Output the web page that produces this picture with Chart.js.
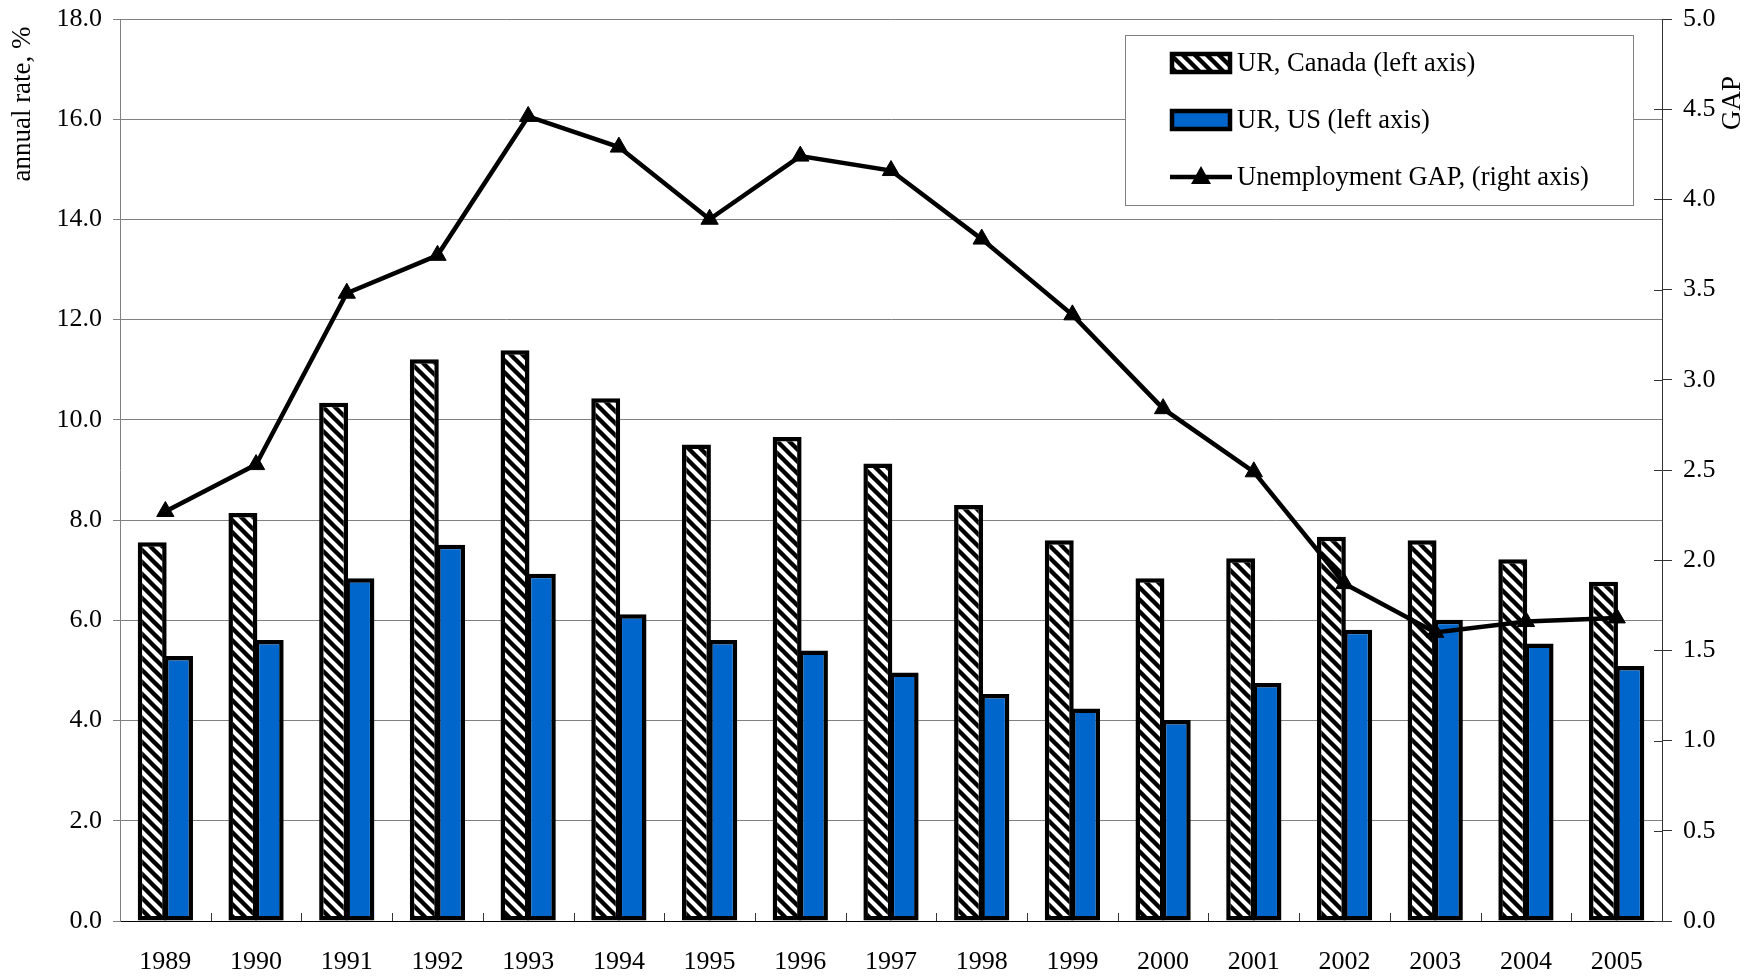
<!DOCTYPE html>
<html>
<head>
<meta charset="utf-8">
<script src="https://cdn.jsdelivr.net/npm/chart.js@4.4.0/dist/chart.umd.min.js"></script>
<style>
    html, body { margin: 0; padding: 0; background: #fff; }
    #wrap { width: 1760px; height: 977px; }
</style>
</head>
<body>
<div id="wrap"><canvas id="chart"></canvas></div>
<script>
const years = ['1989', '1990', '1991', '1992', '1993', '1994', '1995', '1996', '1997',
    '1998', '1999', '2000', '2001', '2002', '2003', '2004', '2005'];
const canada = [7.56, 8.14, 10.34, 11.21, 11.39, 10.43, 9.51, 9.66, 9.13, 8.30, 7.60, 6.84, 7.24, 7.67, 7.60, 7.22, 6.77];
const us = [5.29, 5.61, 6.84, 7.51, 6.93, 6.12, 5.61, 5.40, 4.96, 4.53, 4.24, 4.01, 4.75, 5.81, 6.01, 5.54, 5.09];
const gap = [2.27, 2.53, 3.48, 3.69, 4.46, 4.29, 3.89, 4.24, 4.16, 3.78, 3.36, 2.84, 2.49, 1.87, 1.60, 1.66, 1.68];
const labels = ['UR, Canada (left axis)', 'UR, US (left axis)', 'Unemployment GAP, (right axis)'];

const serif = "'Liberation Serif', 'Times New Roman', serif";
const blue = '#0066cc';

// diagonal hatch for the Canada bars
function hatch() {
    const n = 12;
    const p = document.createElement('canvas');
    p.width = n; p.height = n;
    const c = p.getContext('2d');
    c.fillStyle = '#fff';
    c.fillRect(0, 0, n, n);
    c.strokeStyle = '#000';
    c.lineWidth = 4.4;
    c.beginPath();
    c.moveTo(-4, -4); c.lineTo(n + 4, n + 4);
    c.moveTo(-4, n - 4); c.lineTo(4, n + 4);
    c.moveTo(n - 4, -4); c.lineTo(n + 4, 4);
    c.stroke();
    return c.createPattern(p, 'repeat');
}
const stripes = hatch();

// keep the plot area where the original has it
const noPad = s => {
    s.paddingTop = 0; s.paddingBottom = 0;
    s.paddingLeft = 0; s.paddingRight = 0;
};

const extras = {
    id: 'extras',
    afterDraw(chart) {
        const ctx = chart.ctx;
        const x = chart.scales.x, y = chart.scales.y, y1 = chart.scales.y1;
        ctx.save();

        // small inward ticks between categories
        ctx.strokeStyle = '#333';
        ctx.lineWidth = 1;
        ctx.beginPath();
        for (let i = 1; i < years.length; i++) {
            const px = Math.round((x.getPixelForValue(i - 1) + x.getPixelForValue(i)) / 2) + 0.5;
            ctx.moveTo(px, y.bottom);
            ctx.lineTo(px, y.bottom - 8);
        }
        // inner half of right ticks
        y1.ticks.forEach(t => {
            const py = Math.round(y1.getPixelForValue(t.value)) + 0.5;
            if (t.value < 5) {
                ctx.moveTo(y1.left - 8, py);
                ctx.lineTo(y1.left, py);
            }
        });
        ctx.stroke();

        // axis titles
        ctx.fillStyle = '#000';
        ctx.font = `27px ${serif}`;
        ctx.textAlign = 'center';
        ctx.textBaseline = 'middle';
        ctx.save();
        ctx.translate(23, 104);
        ctx.rotate(-Math.PI / 2);
        ctx.fillText('annual rate, %', 0, 0);
        ctx.restore();
        ctx.save();
        ctx.translate(1733, 103);
        ctx.rotate(-Math.PI / 2);
        ctx.fillText('GAP', 0, 0);
        ctx.restore();

        // legend box
        ctx.fillStyle = '#fff';
        ctx.fillRect(1125, 35, 508, 170);
        ctx.strokeStyle = '#808080';
        ctx.lineWidth = 1;
        ctx.strokeRect(1125.5, 35.5, 508, 170);

        const rows = [63, 120, 177];
        ctx.lineWidth = 4.5;
        ctx.strokeStyle = '#000';
        ctx.fillStyle = stripes;
        ctx.fillRect(1172, rows[0] - 9, 58, 18);
        ctx.strokeRect(1172, rows[0] - 9, 58, 18);
        ctx.fillStyle = blue;
        ctx.fillRect(1172, rows[1] - 9, 58, 18);
        ctx.strokeRect(1172, rows[1] - 9, 58, 18);

        ctx.beginPath();
        ctx.moveTo(1170, rows[2]);
        ctx.lineTo(1232, rows[2]);
        ctx.stroke();
        ctx.fillStyle = '#000';
        ctx.beginPath();
        ctx.moveTo(1201, rows[2] - 11);
        ctx.lineTo(1211, rows[2] + 7);
        ctx.lineTo(1191, rows[2] + 7);
        ctx.closePath();
        ctx.fill();

        ctx.font = `26.5px ${serif}`;
        ctx.textAlign = 'left';
        ctx.textBaseline = 'middle';
        labels.forEach((l, i) => ctx.fillText(l, 1237, rows[i] + 1));
        ctx.restore();
    }
};

new Chart(document.getElementById('chart'), {
    data: {
        labels: years,
        datasets: [{
            type: 'line',
            label: labels[2],
            data: gap,
            yAxisID: 'y1',
            order: 0,
            borderColor: '#000',
            borderWidth: 4.5,
            tension: 0,
            pointStyle: 'triangle',
            pointRadius: 10,
            pointBackgroundColor: '#000',
            pointBorderColor: '#000',
            pointBorderWidth: 1
        }, {
            type: 'bar',
            label: labels[0],
            data: canada,
            yAxisID: 'y',
            order: 1,
            backgroundColor: stripes,
            borderColor: '#000',
            borderWidth: 4.5,
            borderSkipped: false,
            categoryPercentage: 0.58,
            barPercentage: 1.1
        }, {
            type: 'bar',
            label: labels[1],
            data: us,
            yAxisID: 'y',
            order: 1,
            backgroundColor: blue,
            borderColor: '#000',
            borderWidth: 4.5,
            borderSkipped: false,
            categoryPercentage: 0.58,
            barPercentage: 1.1
        }]
    },
    options: {
        responsive: true,
        maintainAspectRatio: false,
        animation: false,
        layout: { padding: { top: 19, left: 0, right: 0, bottom: 0 } },
        plugins: {
            legend: { display: false },
            tooltip: { enabled: false }
        },
        scales: {
            x: {
                grid: { display: false },
                border: { display: true, color: '#000', width: 1 },
                ticks: { color: '#000', font: { family: serif, size: 26 }, padding: 18, maxRotation: 0 },
                afterFit: s => { s.height = 56; noPad(s); }
            },
            y: {
                position: 'left',
                min: 0,
                max: 18,
                ticks: {
                    stepSize: 2,
                    color: '#000',
                    padding: 11,
                    font: { family: serif, size: 26 },
                    callback: v => v.toFixed(1)
                },
                grid: { color: '#808080', lineWidth: 1, tickLength: 7 },
                border: { color: '#808080', width: 1 },
                afterFit: s => { s.width = 120; noPad(s); }
            },
            y1: {
                position: 'right',
                min: 0,
                max: 5,
                ticks: {
                    stepSize: 0.5,
                    color: '#000',
                    padding: 11,
                    crossAlign: 'near',
                    font: { family: serif, size: 26 },
                    callback: v => v.toFixed(1)
                },
                grid: { drawOnChartArea: false, color: '#333', tickLength: 10 },
                border: { color: '#333', width: 1 },
                afterFit: s => { s.width = 98; noPad(s); }
            }
        }
    },
    plugins: [extras]
});
</script>
</body>
</html>
